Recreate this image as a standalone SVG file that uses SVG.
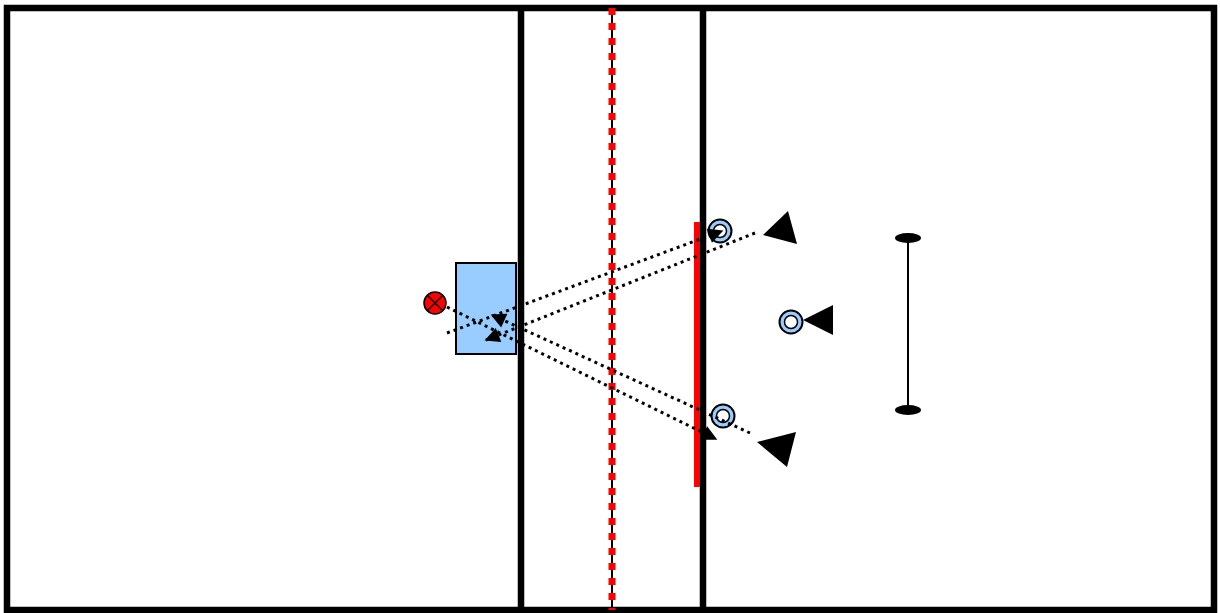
<svg xmlns="http://www.w3.org/2000/svg" width="1220" height="613" viewBox="0 0 1220 613">
<style>
.court{fill:none;stroke:#000;stroke-width:6.5}
.pass{fill:none;stroke:#000;stroke-width:3;stroke-dasharray:3 4}
.ring{fill:#99ccff;stroke:#000;stroke-width:2}
.inner{fill:#fff;stroke:#000;stroke-width:1.5}
.cone{fill:#000}
</style>
<defs>
<marker id="ah" viewBox="0 0 10 10" refX="9" refY="5" markerWidth="5.5" markerHeight="5" orient="auto" markerUnits="strokeWidth">
<path d="M0,0 L10,5 L0,10 z" fill="#000"/>
</marker>
</defs>
<rect width="1220" height="613" fill="#fff"/>
<g id="court">
<rect class="court" x="7" y="8" width="1207" height="602"/>
<line class="court" x1="521" y1="8" x2="521" y2="610"/>
<line class="court" x1="703" y1="8" x2="703" y2="610"/>
<line x1="612" y1="8" x2="612" y2="610" stroke="#000" stroke-width="2"/>
<line x1="612" y1="8" x2="612" y2="610" stroke="#ff0000" stroke-width="7" stroke-dasharray="7 8"/>
<line x1="697" y1="222" x2="697" y2="487" stroke="#ff0000" stroke-width="6"/>
</g>
<g id="box">
<rect x="456" y="263" width="60" height="91" fill="#99ccff" stroke="#000" stroke-width="2"/>
</g>
<g id="ball">
<circle cx="435" cy="303" r="11" fill="#ff0000" stroke="#000" stroke-width="1.5"/>
<line x1="427.5" y1="295.5" x2="442.5" y2="310.5" stroke="#000" stroke-width="1.5"/>
<line x1="442.5" y1="295.5" x2="427.5" y2="310.5" stroke="#000" stroke-width="1.5"/>
</g>
<g id="player1">
<circle class="ring" cx="720" cy="231" r="11.5"/>
<circle class="inner" cx="720" cy="231" r="6.5"/>
</g>
<g id="player2">
<circle class="ring" cx="723" cy="416" r="11.5"/>
<circle class="inner" cx="723" cy="416" r="6.5"/>
</g>
<g id="player3">
<circle class="ring" cx="791" cy="322" r="11.5"/>
<circle class="inner" cx="791" cy="322" r="6.5"/>
</g>
<g id="cone1"><polygon class="cone" points="763,235 788,211 797,244"/></g>
<g id="cone2"><polygon class="cone" points="757,442 796,432 787,467"/></g>
<g id="cone3"><polygon class="cone" points="803,320 833,305 833,335"/></g>
<g id="goal">
<line x1="908" y1="238" x2="908" y2="410" stroke="#000" stroke-width="2"/>
<ellipse class="cone" cx="908" cy="238" rx="13" ry="5"/>
<ellipse class="cone" cx="908" cy="410" rx="13" ry="5"/>
</g>
<g id="connectors">
<line class="pass" x1="447" y1="333" x2="722" y2="231" marker-end="url(#ah)"/>
<line class="pass" x1="755" y1="233" x2="486" y2="340" marker-end="url(#ah)"/>
<line class="pass" x1="750" y1="433" x2="492" y2="315" marker-end="url(#ah)"/>
<line class="pass" x1="447" y1="307" x2="716" y2="439" marker-end="url(#ah)"/>
</g>
</svg>
